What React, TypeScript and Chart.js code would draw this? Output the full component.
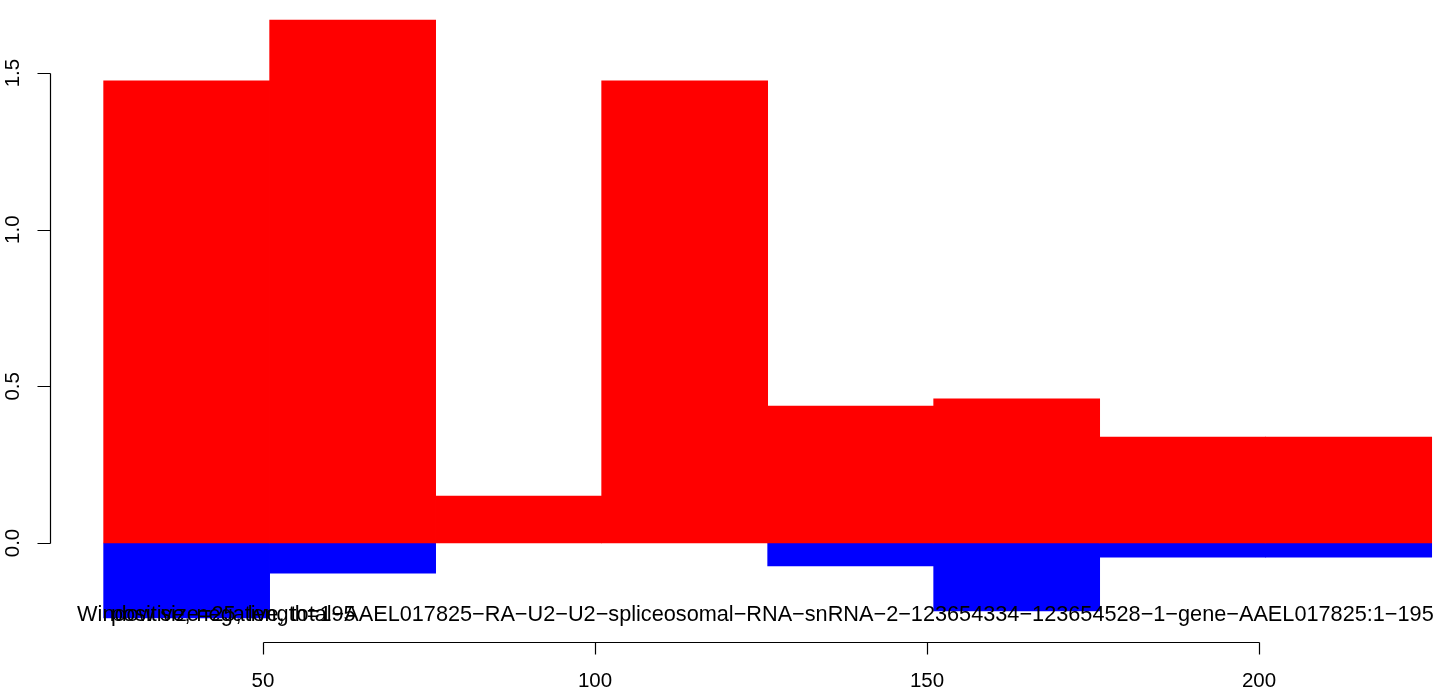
import React, { useEffect, useRef } from "react";
import { Chart, registerables } from "chart.js";

Chart.register(...registerables);

// ---- data ----
const binStarts = [26, 51, 76, 101, 126, 151, 176, 201];
const binWidth = 25;
const positiveValues = [1.475, 1.669, 0.15, 1.475, 0.437, 0.46, 0.338, 0.338];
const negativeValues = [-0.239, -0.096, 0, 0, -0.073, -0.217, -0.045, -0.045];
const xTicks = [50, 100, 150, 200];
const xTickLabels = ["50", "100", "150", "200"];
const yTicks = [0, 0.5, 1.0, 1.5];
const yTickLabels = ["0.0", "0.5", "1.0", "1.5"];
const windowLabel = "Window size=25, length=195";
const titleLabel =
  "positive, negative, total-AAEL017825-RA-U2-U2-spliceosomal-RNA-snRNA-2-123654334-123654528-1-gene-AAEL017825:1-195";

const FAMILY = '"Liberation Sans", Arial, Helvetica, sans-serif';
const TICK_FONT = "20.5px " + FAMILY;
const LABEL_FONT = "21.7px " + FAMILY;
// R draws "-" with the minus glyph
const asR = (s: string) => s.replace(/-/g, "\u2212");

const rAxesPlugin = {
  id: "rAxes",
  afterDraw(chart: any) {
    const ctx = chart.ctx as CanvasRenderingContext2D;
    const xs = chart.scales.x;
    const ys = chart.scales.y;
    const area = chart.chartArea;
    ctx.save();
    ctx.strokeStyle = "#000";
    ctx.fillStyle = "#000";
    ctx.lineWidth = 1.2;
    ctx.font = TICK_FONT;

    // y axis
    const ax = Math.round(area.left) + 0.5;
    const y0 = ys.getPixelForValue(yTicks[0]);
    const y1 = ys.getPixelForValue(yTicks[yTicks.length - 1]);
    ctx.beginPath();
    ctx.moveTo(ax, Math.round(y0) + 0.5);
    ctx.lineTo(ax, Math.round(y1) + 0.5);
    yTicks.forEach((v) => {
      const py = Math.round(ys.getPixelForValue(v)) + 0.5;
      ctx.moveTo(ax, py);
      ctx.lineTo(ax - 13, py);
    });
    ctx.stroke();
    yTicks.forEach((v, i) => {
      const py = ys.getPixelForValue(v);
      ctx.save();
      ctx.translate(19, py);
      ctx.rotate(-Math.PI / 2);
      ctx.textAlign = "center";
      ctx.textBaseline = "alphabetic";
      ctx.fillText(yTickLabels[i], 0, 0);
      ctx.restore();
    });

    // x axis
    const by = Math.round(area.bottom) + 0.5;
    const x0 = xs.getPixelForValue(xTicks[0]);
    const x1 = xs.getPixelForValue(xTicks[xTicks.length - 1]);
    ctx.beginPath();
    ctx.moveTo(Math.round(x0) + 0.5, by);
    ctx.lineTo(Math.round(x1) + 0.5, by);
    xTicks.forEach((v) => {
      const px = Math.round(xs.getPixelForValue(v)) + 0.5;
      ctx.moveTo(px, by);
      ctx.lineTo(px, by + 12);
    });
    ctx.stroke();
    ctx.textAlign = "center";
    ctx.textBaseline = "alphabetic";
    xTicks.forEach((v, i) => {
      ctx.fillText(xTickLabels[i], xs.getPixelForValue(v), 687);
    });

    // overlapping labels
    ctx.font = LABEL_FONT;
    const ty = ys.getPixelForValue(-0.249);
    ctx.textAlign = "left";
    ctx.fillText(asR(windowLabel), xs.getPixelForValue(22), ty);
    ctx.textAlign = "center";
    ctx.fillText(asR(titleLabel), xs.getPixelForValue(126.7), ty);
    ctx.restore();
  },
};

export default function App() {
  const ref = useRef<HTMLCanvasElement | null>(null);
  useEffect(() => {
    document.body.style.margin = "0";
    const canvas = ref.current;
    if (!canvas) return;
    const centers = binStarts.map((s) => s + binWidth / 2);
    const chart = new Chart(canvas, {
      type: "bar",
      data: {
        datasets: [
          {
            label: "positive",
            data: centers.map((c, i) => ({ x: c, y: positiveValues[i] === 0 ? null : positiveValues[i] })),
            backgroundColor: "#FF0000",
            borderWidth: 0,
            barPercentage: 1,
            categoryPercentage: 1,
          },
          {
            label: "negative",
            data: centers.map((c, i) => ({ x: c, y: negativeValues[i] === 0 ? null : negativeValues[i] })),
            backgroundColor: "#0000FF",
            borderWidth: 0,
            barPercentage: 1,
            categoryPercentage: 1,
          },
        ],
      },
      options: {
        responsive: false,
        animation: false,
        devicePixelRatio: 1,
        layout: { padding: { left: 50, right: 0, top: 0, bottom: 46 } },
        plugins: { legend: { display: false }, tooltip: { enabled: false } },
        scales: {
          x: {
            type: "linear",
            display: false,
            stacked: true,
            offset: false,
            min: 17.92,
            max: 227.4,
            afterBuildTicks: (scale: any) => {
              scale.ticks = xTicks.map((v) => ({ value: v }));
            },
          },
          y: {
            type: "linear",
            display: false,
            stacked: true,
            min: -0.316,
            max: 1.7332,
          },
        },
      },
      plugins: [rAxesPlugin],
    } as any);
    return () => chart.destroy();
  }, []);
  return (
    <div style={{ position: "absolute", left: 0, top: 0, width: 1441, height: 688, background: "#fff" }}>
      <canvas ref={ref} width={1441} height={688} style={{ display: "block" }} />
    </div>
  );
}
